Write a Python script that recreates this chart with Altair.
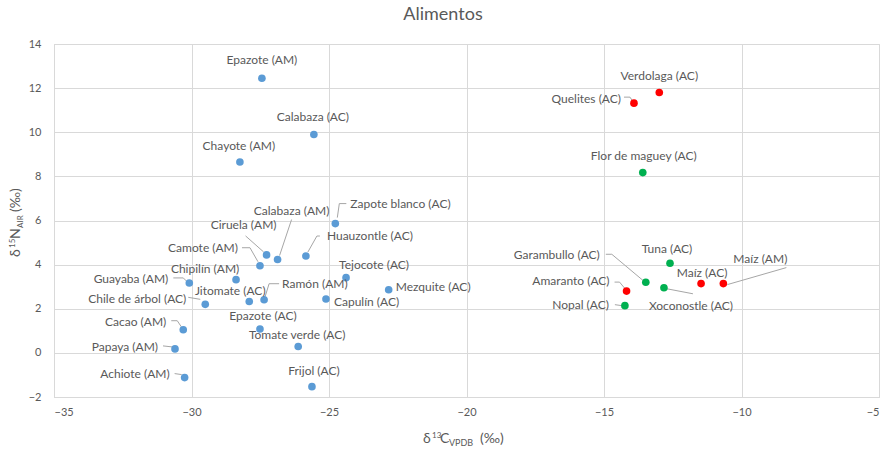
import altair as alt
import pandas as pd

# Isotopic values of each food (δ13C VPDB, δ15N AIR)
nombres = [
    "Epazote (AM)", "Calabaza (AC)", "Chayote (AM)", "Zapote blanco (AC)",
    "Calabaza (AM)", "Ciruela (AM)", "Camote (AM)", "Huauzontle (AC)",
    "Tejocote (AC)", "Mezquite (AC)", "Capulín (AC)", "Ramón (AM)",
    "Jitomate (AC)", "Chipilín (AM)", "Guayaba (AM)", "Chile de árbol (AC)",
    "Cacao (AM)", "Papaya (AM)", "Achiote (AM)", "Epazote (AC)",
    "Tomate verde (AC)", "Frijol (AC)",
    "Verdolaga (AC)", "Quelites (AC)", "Amaranto (AC)", "Maíz (AC)", "Maíz (AM)",
    "Flor de maguey (AC)", "Tuna (AC)", "Garambullo (AC)", "Xoconostle (AC)",
    "Nopal (AC)",
]
d13c = [
    -27.44, -25.55, -28.24, -24.77,
    -26.87, -27.27, -27.51, -25.84,
    -24.38, -22.83, -25.11, -27.36,
    -27.90, -28.38, -30.08, -29.50,
    -30.30, -30.60, -30.25, -27.51,
    -26.12, -25.62,
    -12.99, -13.91, -14.18, -11.47, -10.66,
    -13.59, -12.60, -13.48, -12.82,
    -14.24,
]
d15n = [
    12.45, 9.90, 8.65, 5.86,
    4.23, 4.44, 3.95, 4.39,
    3.41, 2.86, 2.44, 2.41,
    2.33, 3.32, 3.17, 2.20,
    1.05, 0.18, -1.12, 1.08,
    0.29, -1.53,
    11.80, 11.32, 2.80, 3.14, 3.14,
    8.17, 4.06, 3.20, 2.95,
    2.14,
]
grupo = ["C3"] * 22 + ["C4"] * 5 + ["CAM"] * 5

grupos = ["C3", "C4", "CAM"]
colores = ["#5B9BD5", "#FF0000", "#00B050"]

# Axis extent and plot size
X_MIN, X_MAX = -35, -5
Y_MIN, Y_MAX = -2, 14
W, H = 825, 353
PX_X = W / (X_MAX - X_MIN)
PX_Y = H / (Y_MAX - Y_MIN)

# Label placement: pixel offset from the point and text alignment
etiquetas = {
    "Epazote (AM)": (0, -18, "center"),
    "Calabaza (AC)": (-1, -17, "center"),
    "Chayote (AM)": (-1, -16, "center"),
    "Zapote blanco (AC)": (15, -20, "left"),
    "Calabaza (AM)": (14, -49, "center"),
    "Ciruela (AM)": (-23, -30, "center"),
    "Camote (AM)": (-22, -18, "right"),
    "Huauzontle (AC)": (21, -20, "left"),
    "Tejocote (AC)": (28, -13, "center"),
    "Mezquite (AC)": (7, -3, "left"),
    "Capulín (AC)": (8, 3, "left"),
    "Ramón (AM)": (18, -16, "left"),
    "Jitomate (AC)": (-19, -10, "center"),
    "Chipilín (AM)": (-31, -11, "center"),
    "Guayaba (AM)": (-21, -4, "right"),
    "Chile de árbol (AC)": (-19, -5, "right"),
    "Cacao (AM)": (-17, -8, "right"),
    "Papaya (AM)": (-17, -2, "right"),
    "Achiote (AM)": (-15, -4, "right"),
    "Epazote (AC)": (3, -13, "center"),
    "Tomate verde (AC)": (-1, -11, "center"),
    "Frijol (AC)": (2, -16, "center"),
    "Verdolaga (AC)": (0, -17, "center"),
    "Quelites (AC)": (-13, -4, "right"),
    "Amaranto (AC)": (-17, -10, "right"),
    "Maíz (AC)": (1, -11, "center"),
    "Maíz (AM)": (37, -25, "center"),
    "Flor de maguey (AC)": (1, -17, "center"),
    "Tuna (AC)": (-3, -14, "center"),
    "Garambullo (AC)": (-46, -27, "right"),
    "Xoconostle (AC)": (-15, 18, "left"),
    "Nopal (AC)": (-16, -1, "right"),
}

# Leader lines: pixel offsets from the point, from label end to marker
guias = {
    "Zapote blanco (AC)": [(11, -20), (4, -20), (2, -6)],
    "Calabaza (AM)": [(14, -40), (2, -4)],
    "Ciruela (AM)": [(-21, -19), (-3, -3)],
    "Camote (AM)": [(-18, -18), (-10, -18), (-2, -4)],
    "Huauzontle (AC)": [(14, -20), (11, -20), (2, -4)],
    "Ramón (AM)": [(15, -16), (5, -16), (1, -3)],
    "Guayaba (AM)": [(-16, -5), (-6, -5), (-3, -2)],
    "Chile de árbol (AC)": [(-17, -7), (-5, -5)],
    "Cacao (AM)": [(-12, -9), (-6, -9), (-2, -3)],
    "Papaya (AM)": [(-12, -3), (-3, -2)],
    "Achiote (AM)": [(-10, -4), (-3, -3)],
    "Quelites (AC)": [(-10, -6), (-4, -6), (-2, -3)],
    "Garambullo (AC)": [(-40, -28), (-34, -28), (-3, -2)],
    "Amaranto (AC)": [(-12, -9), (-7, -9), (-2, -3)],
    "Maíz (AM)": [(63, -16), (4, 1)],
    "Xoconostle (AC)": [(3, 1), (29, 6)],
    "Nopal (AC)": [(-10, -1), (-3, 0)],
}

puntos = pd.DataFrame({"nombre": nombres, "c13": d13c, "n15": d15n, "grupo": grupo})

filas_txt = []
for n, cx, ny in zip(nombres, d13c, d15n):
    dx, dy, al = etiquetas[n]
    filas_txt.append({"nombre": n, "lx": cx + dx / PX_X, "ly": ny - dy / PX_Y, "al": al})
textos = pd.DataFrame(filas_txt)

filas_guia = []
for n, cx, ny in zip(nombres, d13c, d15n):
    for i, (dx, dy) in enumerate(guias.get(n, [])):
        filas_guia.append({"nombre": n, "orden": i, "gx": cx + dx / PX_X, "gy": ny - dy / PX_Y})
lineas = pd.DataFrame(filas_guia)

GRIS = "#595959"
FUENTE = "Lato"

x_esc = alt.Scale(domain=[X_MIN, X_MAX], nice=False, zero=False)
y_esc = alt.Scale(domain=[Y_MIN, Y_MAX], nice=False, zero=False)

x_eje = alt.Axis(
    values=list(range(X_MIN, X_MAX + 1, 5)), title=None, ticks=False,
    grid=True, gridColor="#d9d9d9", domainColor="#d9d9d9",
    labelFont=FUENTE, labelFontSize=11, labelColor=GRIS, labelPadding=9,
)
y_eje = alt.Axis(
    values=list(range(Y_MIN, Y_MAX + 1, 2)), title=None, ticks=False,
    grid=True, gridColor="#d9d9d9", domainColor="#d9d9d9",
    labelFont=FUENTE, labelFontSize=11, labelColor=GRIS, labelPadding=13,
)

base = alt.Chart(puntos).mark_point(
    filled=True, size=58, opacity=1, shape="circle"
).encode(
    x=alt.X("c13:Q", scale=x_esc, axis=x_eje),
    y=alt.Y("n15:Q", scale=y_esc, axis=y_eje),
    color=alt.Color("grupo:N", scale=alt.Scale(domain=grupos, range=colores), legend=None),
)

guia_capa = alt.Chart(lineas).mark_line(color="#a6a6a6", strokeWidth=1).encode(
    x=alt.X("gx:Q", scale=x_esc),
    y=alt.Y("gy:Q", scale=y_esc),
    detail="nombre:N",
    order="orden:Q",
)

capas_txt = []
for al in ["left", "center", "right"]:
    capas_txt.append(
        alt.Chart(textos).transform_filter(alt.datum.al == al).mark_text(
            align=al, baseline="middle", font=FUENTE, fontSize=12, color=GRIS
        ).encode(
            x=alt.X("lx:Q", scale=x_esc),
            y=alt.Y("ly:Q", scale=y_esc),
            text="nombre:N",
        )
    )

# Chart title and axis titles (the latter built from pieces for super/subscripts)
uno = alt.Data(values=[{"k": 0}])


def pieza(txt, x, y, size, angle=0, align="left"):
    props = dict(align=align, baseline="alphabetic", font=FUENTE, fontSize=size, color=GRIS)
    if angle:
        props["angle"] = angle
    return alt.Chart(uno).mark_text(**props).encode(
        x=alt.value(x), y=alt.value(y), text=alt.value(txt)
    )


titulo = pieza("Alimentos", 389, -24, 18, align="center")

titulo_x = [
    pieza("δ", 369, 399, 14),
    pieza("13", 378, 394, 8),
    pieza("C", 386, 399, 14),
    pieza("VPDB", 395, 402, 9),
    pieza("(‰)", 426, 399, 14),
]
titulo_y = [
    pieza("δ", -34, 213, 14, 270),
    pieza("15", -39, 204, 8, 270),
    pieza("N", -34, 195, 14, 270),
    pieza("AIR", -31, 184, 8, 270),
    pieza("(‰)", -34, 168, 14, 270),
]

chart = alt.layer(
    guia_capa, base, *capas_txt, titulo, *titulo_x, *titulo_y
).properties(
    width=W,
    height=H,
    autosize=alt.AutoSizeParams(type="none"),
    padding={"left": 54, "top": 44, "right": 9, "bottom": 53},
).configure_view(stroke=None).configure(background="white")

chart.save("out.html", embed_options={"renderer": "svg", "actions": False})
